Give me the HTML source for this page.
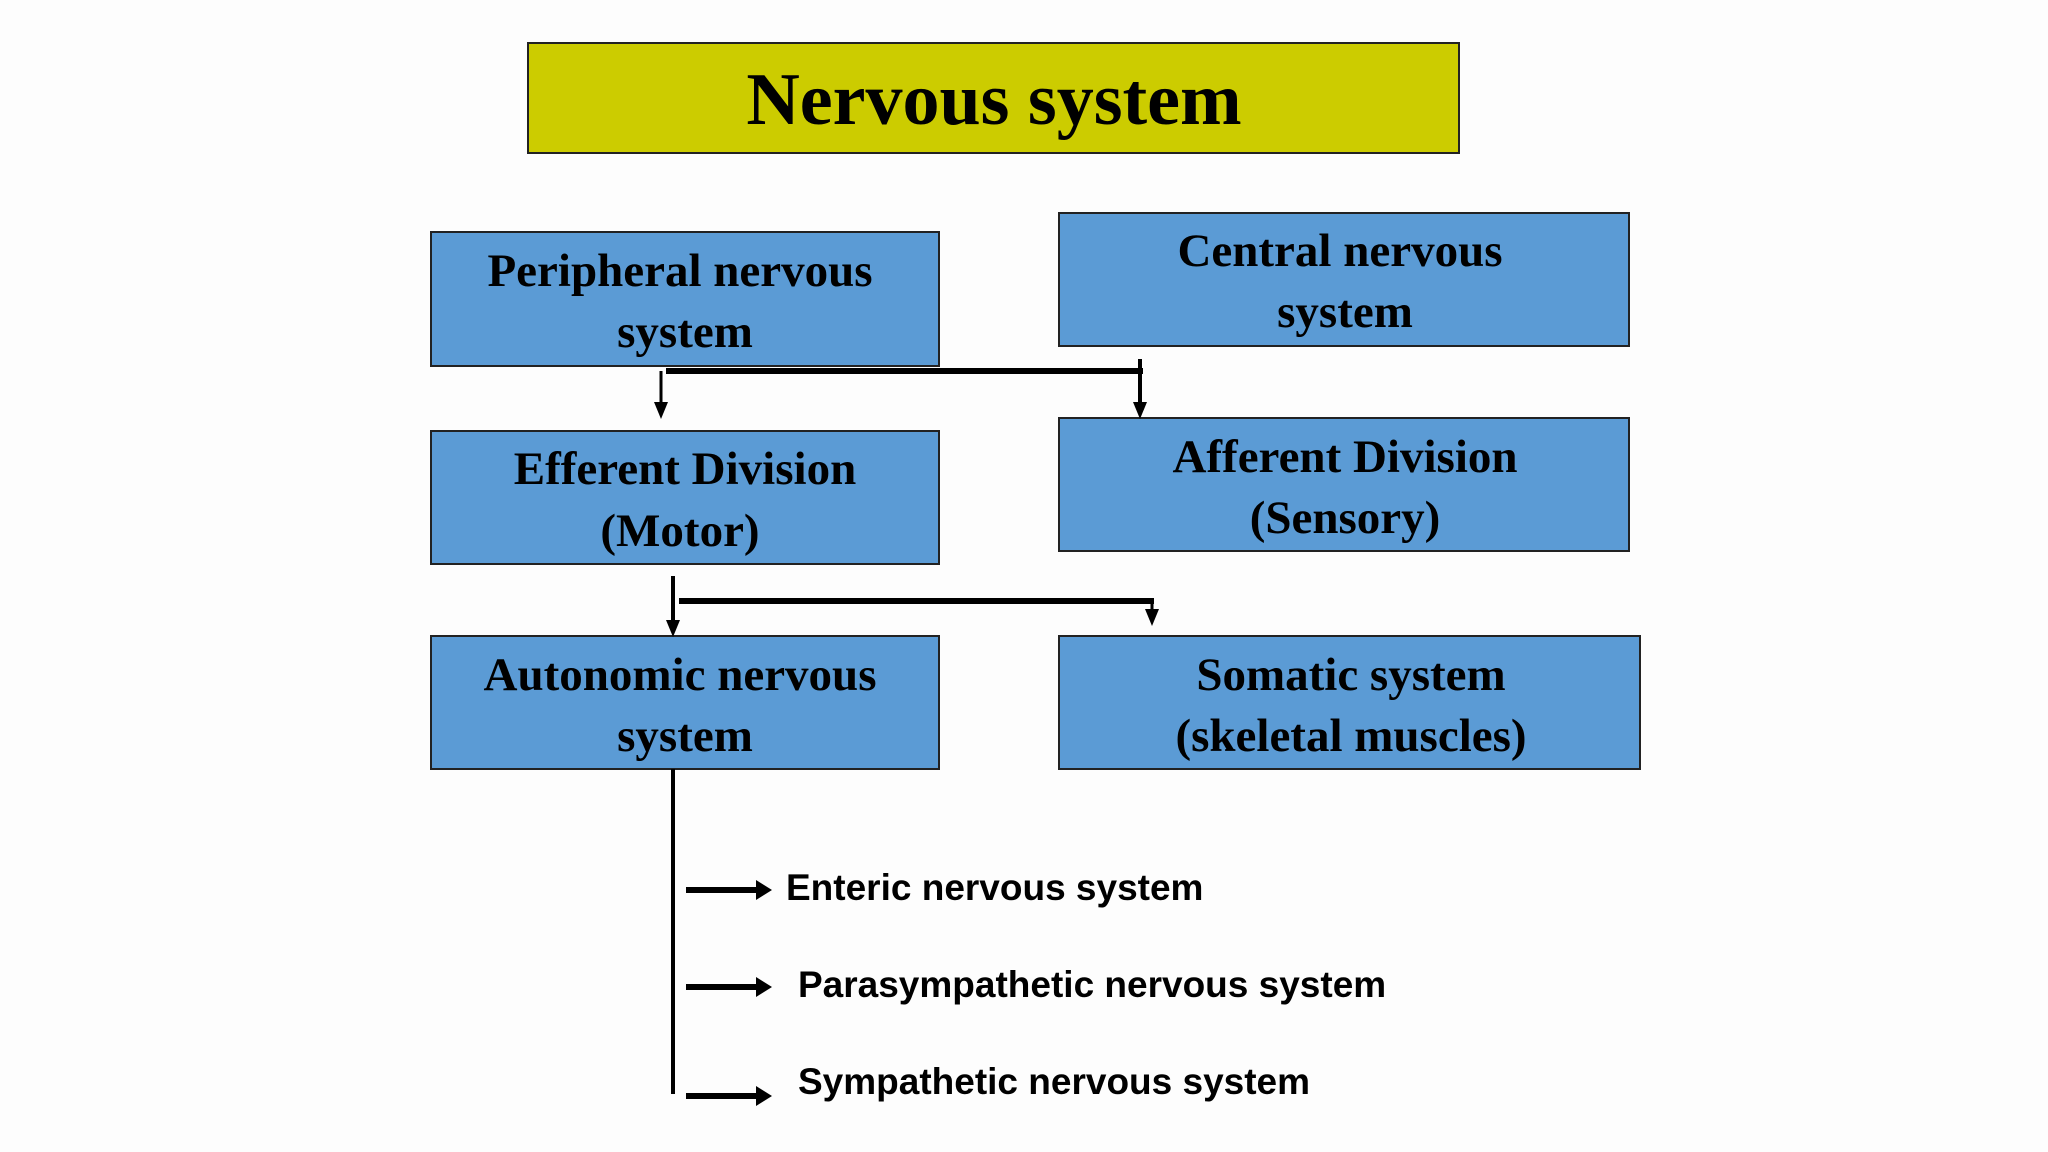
<!DOCTYPE html>
<html><head><meta charset="utf-8"><style>
html,body{margin:0;padding:0;background:#fdfdfd;}
svg{display:block;}
.b{font-family:"Liberation Serif",serif;font-weight:bold;font-size:47px;fill:#000;text-anchor:middle;}
.s{font-family:"Liberation Sans",sans-serif;font-weight:bold;font-size:37px;fill:#000;}
</style></head><body>
<svg width="2048" height="1152" viewBox="0 0 2048 1152" xmlns="http://www.w3.org/2000/svg">
<rect x="0" y="0" width="2048" height="1152" fill="#fdfdfd"/>
<rect x="528" y="43" width="931" height="110" fill="#cccc00" stroke="#222" stroke-width="2"/>
<text x="994" y="124" class="b" style="font-size:74px">Nervous system</text>

<g fill="#5b9bd5" stroke="#222" stroke-width="2">
<rect x="431" y="232" width="508" height="134"/>
<rect x="1059" y="213" width="570" height="133"/>
<rect x="431" y="431" width="508" height="133"/>
<rect x="1059" y="418" width="570" height="133"/>
<rect x="431" y="636" width="508" height="133"/>
<rect x="1059" y="636" width="581" height="133"/>
</g>
<text class="b" x="680" y="286">Peripheral nervous</text>
<text class="b" x="685" y="347">system</text>
<text class="b" x="1340" y="266">Central nervous</text>
<text class="b" x="1345" y="327">system</text>
<text class="b" x="685" y="484">Efferent Division</text>
<text class="b" x="680" y="546">(Motor)</text>
<text class="b" x="1345" y="472">Afferent Division</text>
<text class="b" x="1345" y="533">(Sensory)</text>
<text class="b" x="680" y="690">Autonomic nervous</text>
<text class="b" x="685" y="751">system</text>
<text class="b" x="1351" y="690">Somatic system</text>
<text class="b" x="1351" y="751">(skeletal muscles)</text>

<g stroke="#000" fill="none">
<line x1="666" y1="371" x2="1143" y2="371" stroke-width="6"/>
<line x1="661" y1="371" x2="661" y2="404" stroke-width="3"/>
<line x1="1140" y1="359" x2="1140" y2="404" stroke-width="4"/>
<line x1="673" y1="576" x2="673" y2="622" stroke-width="4"/>
<line x1="679" y1="601" x2="1154" y2="601" stroke-width="6"/>
<line x1="1152" y1="601" x2="1152" y2="612" stroke-width="3"/>
<line x1="673" y1="769" x2="673" y2="1094" stroke-width="4"/>
<line x1="686" y1="890" x2="758" y2="890" stroke-width="6"/>
<line x1="686" y1="987" x2="758" y2="987" stroke-width="6"/>
<line x1="686" y1="1096" x2="758" y2="1096" stroke-width="6"/>
</g>
<g fill="#000">
<polygon points="654,402 668,402 661,419"/>
<polygon points="1133,402 1147,402 1140,419"/>
<polygon points="666,620 680,620 673,637"/>
<polygon points="1145,609 1159,609 1152,626"/>
<polygon points="756,880 756,900 772,890"/>
<polygon points="756,977 756,997 772,987"/>
<polygon points="756,1086 756,1106 772,1096"/>
</g>
<text class="s" x="786" y="900">Enteric nervous system</text>
<text class="s" x="798" y="997">Parasympathetic nervous system</text>
<text class="s" x="798" y="1094">Sympathetic nervous system</text>
</svg>
</body></html>
